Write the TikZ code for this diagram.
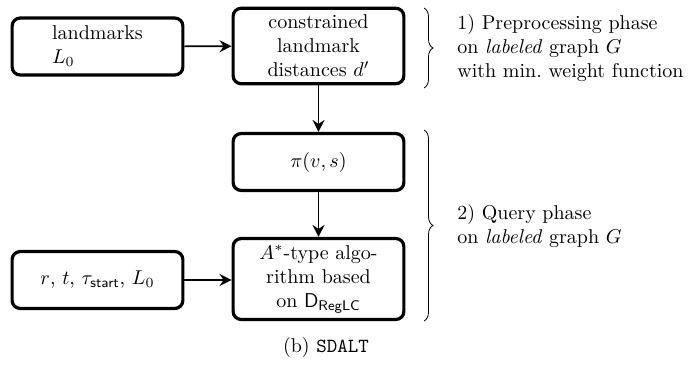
\documentclass[tikz,border=0pt]{standalone}
\usetikzlibrary{arrows.meta,decorations.pathreplacing}
\begin{document}
\begin{tikzpicture}[x=0.5pt,y=-0.5pt,
  box/.style={draw, line width=1.6pt, rounded corners=4pt, minimum width=3cm, minimum height=1cm, align=center, inner sep=3.33pt},
  arr/.style={line width=0.8pt, -{Stealth[length=6pt,width=6pt,inset=2pt]}},
  brc/.style={decorate, decoration={brace, amplitude=4.5pt}, line width=0.4pt},
  phase/.style={anchor=west, align=left, inner sep=0pt}]
\useasboundingbox (0,0) rectangle (688,369);
\node[box, align=left] (lm) at (97.5,46.5) {landmarks\\$L_0$};
\node[box] (cd) at (318.5,46) {constrained\\landmark\\distances $d'$};
\node[box] (pi) at (318.5,162) {$\pi(v,s)$};
\node[box] (as) at (318.5,279) {$A^*$-type algo-\\rithm based\\on $\mathsf{D}_{\mathsf{RegLC}}$};
\node[box] (in) at (97.5,280) {$r$, $t$, $\tau_{\mathsf{start}}$, $L_0$};
\draw[arr] (lm) -- (cd);
\draw[arr] (cd) -- (pi);
\draw[arr] (pi) -- (as);
\draw[arr] (in.east) -- (in.east -| as.west);
\coordinate (b1t) at (424,8);
\coordinate (b1b) at (424,88);
\coordinate (b2t) at (424,130);
\coordinate (b2b) at (424,321);
\draw[brc] (b1t) -- (b1b);
\draw[brc] (b2t) -- (b2b);
\node[phase] (t1) at (457,48) {1) Preprocessing phase\\on \textit{labeled} graph $G$\\with min.\ weight function};
\node[phase] (t2) at (457,226) {2) Query phase\\on \textit{labeled} graph $G$};
\node (cap) at (326,347) {(b) \texttt{SDALT}};
\end{tikzpicture}
\end{document}
